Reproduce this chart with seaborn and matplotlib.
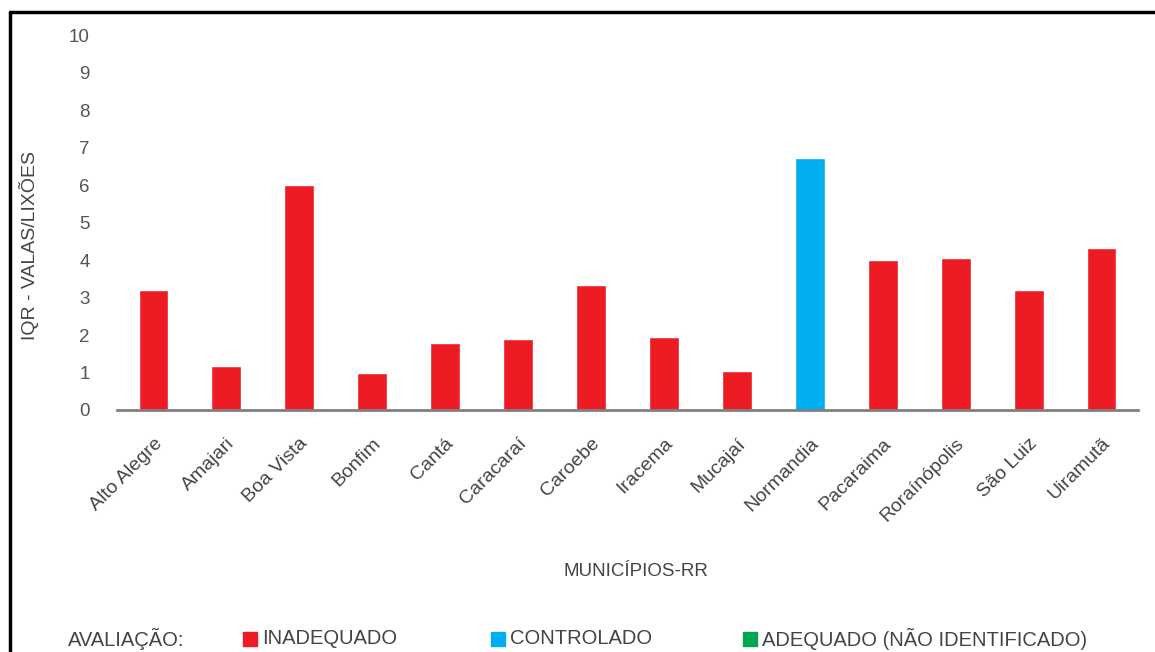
import matplotlib
matplotlib.use("Agg")
import matplotlib.pyplot as plt
import matplotlib.transforms as mtransforms
import seaborn as sns
import pandas as pd
from matplotlib.lines import Line2D
from matplotlib.patches import Rectangle

municipios = ["Alto Alegre", "Amajari", "Boa Vista", "Bonfim", "Cantá", "Caracaraí",
              "Caroebe", "Iracema", "Mucajaí", "Normandia", "Pacaraima",
              "Roraínópolis", "São Luiz", "Uiramutã"]
valores = [3.2, 1.18, 6.0, 1.0, 1.8, 1.9, 3.35, 1.95, 1.03, 6.72, 4.0, 4.07, 3.2, 4.32]
avaliacao = ["INADEQUADO"] * 9 + ["CONTROLADO"] + ["INADEQUADO"] * 4
categorias_legenda = ["INADEQUADO", "CONTROLADO", "ADEQUADO (NÃO IDENTIFICADO)"]
cores = {"INADEQUADO": "#ED1C24", "CONTROLADO": "#00AEEF",
         "ADEQUADO (NÃO IDENTIFICADO)": "#00A651"}
yticks = list(range(0, 11))

sns.set_style("white")
plt.rcParams["font.family"] = ["Liberation Sans", "DejaVu Sans"]

df = pd.DataFrame({"municipio": municipios, "valor": valores, "avaliacao": avaliacao})

fig = plt.figure(figsize=(11.55, 6.52), dpi=100)
ax = fig.add_axes([117 / 1155, 1 - 410 / 652, (1138 - 117) / 1155, (410 - 35.5) / 652])

sns.barplot(data=df, x="municipio", y="valor", hue="avaliacao", palette=cores,
            dodge=False, width=0.41, legend=False, ax=ax, saturation=1)

ax.set_ylim(0, 10)
ax.set_xlim(-0.5, len(municipios) - 0.5)
ax.set_yticks(yticks)
ax.set_yticklabels([str(t) for t in yticks], fontsize=13.5, color="#555555")
ax.tick_params(axis="y", length=0, pad=19.5)
ax.tick_params(axis="x", length=0, pad=18)
ax.set_xticks(range(len(municipios)))
ax.set_xticklabels(municipios, rotation=45, ha="right", rotation_mode="anchor",
                   fontsize=14, color="#444444")
shift = mtransforms.ScaledTranslation(0, 0, fig.dpi_scale_trans)
for lab in ax.get_xticklabels():
    lab.set_transform(lab.get_transform() + shift)
for s in ["top", "right", "left"]:
    ax.spines[s].set_visible(False)
ax.spines["bottom"].set_color("#808080")
ax.spines["bottom"].set_linewidth(2)
ax.set_xlabel("")
ax.set_ylabel("IQR - VALAS/LIXÕES", fontsize=14, color="#444444")
ax.yaxis.set_label_coords(-0.076, (410 - 245) / 374.5)

fig.text(636 / 1155, 1 - 572 / 652, "MUNICÍPIOS-RR", ha="center", va="center",
         fontsize=13.5, color="#444444")

# legend row
ly = 1 - 639 / 652
fig.text(68 / 1155, ly, "AVALIAÇÃO:", ha="left", va="center", fontsize=14.5, color="#444444")
xs = [243, 491, 743]
for x0, cat in zip(xs, categorias_legenda):
    fig.add_artist(Rectangle((x0 / 1155, ly - 7 / 652), 14 / 1155, 14 / 652,
                             transform=fig.transFigure, color=cores[cat]))
    fig.text((x0 + 19) / 1155, ly, cat, ha="left", va="center", fontsize=14.5, color="#444444")

# outer frame (left and top)
fig.add_artist(Line2D([10 / 1155, 10 / 1155], [0, 1 - 12 / 652], color="black", lw=2.5,
                      transform=fig.transFigure))
fig.add_artist(Line2D([10 / 1155, 1], [1 - 12 / 652, 1 - 12 / 652], color="black", lw=2.5,
                      transform=fig.transFigure))

fig.savefig("out.png", dpi=100)
